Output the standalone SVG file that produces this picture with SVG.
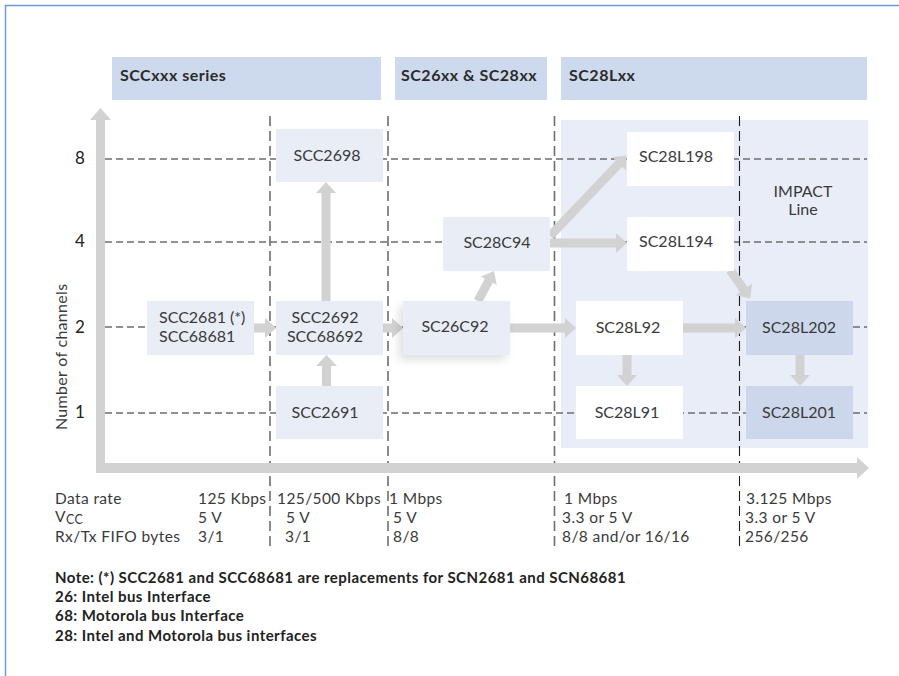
<svg xmlns="http://www.w3.org/2000/svg" width="899" height="676" viewBox="0 0 899 676">
<defs>
<style>
.hdr{fill:#CDD9EC}
.hdrt{font-family:Lato,"Open Sans",sans-serif;font-weight:bold;font-size:16px;letter-spacing:0.5px;fill:#2b2b2b}
.nd{fill:#E8EDF6}
.nw{fill:#FFFFFF}
.nb{fill:#CCD7EB}
.nt{font-family:Lato,"Open Sans",sans-serif;font-size:16px;fill:#3a3a3a;text-anchor:middle}
.ax{fill:#D2D2D2}
.arr{fill:#D2D2D2}
.hg{stroke:#6e6e6e;stroke-width:1.4;stroke-dasharray:7 4;fill:none}
.vg{stroke:#6e6e6e;stroke-width:1.6;stroke-dasharray:10 5;fill:none}
.vk{stroke:#1e1e1e;stroke-width:1.1;stroke-dasharray:10 5;fill:none}
.num{font-family:Lato,"Open Sans",sans-serif;font-size:17px;fill:#222;text-anchor:middle}
.tb{font-family:Lato,"Open Sans",sans-serif;font-size:15.5px;letter-spacing:0.4px;fill:#3a3a3a}
.nt2{font-family:Lato,"Open Sans",sans-serif;font-weight:bold;font-size:15px;letter-spacing:0.45px;fill:#222}
</style>
<filter id="sh" x="-30%" y="-30%" width="160%" height="160%">
<feDropShadow dx="-4" dy="5" stdDeviation="4" flood-color="#000" flood-opacity="0.12"/>
</filter>
</defs>
<rect width="899" height="676" fill="#FFFFFF"/>
<path d="M5.5 676 V5.5 H899" fill="none" stroke="#6A9BD8" stroke-width="1.5"/>

<g id="headers">
<rect class="hdr" x="112" y="57" width="269" height="43"/>
<text class="hdrt" x="120" y="81">SCCxxx series</text>
<rect class="hdr" x="395" y="57" width="152" height="43"/>
<text class="hdrt" x="401" y="81">SC26xx &amp; SC28xx</text>
<rect class="hdr" x="561" y="57" width="306" height="43"/>
<text class="hdrt" x="569" y="81">SC28Lxx</text>
</g>

<g id="impact-region">
<rect x="561" y="120" width="307" height="328" fill="#E8EDF7"/>
<text class="nt" x="803" y="197">IMPACT</text>
<text class="nt" x="803" y="215">Line</text>
</g>

<g id="grid">
<line class="hg" x1="105" y1="159" x2="867" y2="159"/>
<line class="hg" x1="105" y1="242" x2="867" y2="242"/>
<line class="hg" x1="105" y1="327" x2="867" y2="327"/>
<line class="hg" x1="105" y1="413" x2="867" y2="413"/>
<line class="vg" x1="270" y1="116" x2="270" y2="546"/>
<line class="vg" x1="388" y1="116" x2="388" y2="546"/>
<line class="vg" x1="554.5" y1="116" x2="554.5" y2="546"/>
<line class="vk" x1="739.5" y1="116" x2="739.5" y2="546"/>
</g>

<g id="axes">
<polygon class="ax" points="96,473 96,120 90,120 100.5,108 111,120 105,120 105,463 857,463 857,457 869,468 857,479 857,473"/>
<text class="num" x="80" y="164">8</text>
<text class="num" x="80" y="247">4</text>
<text class="num" x="80" y="333">2</text>
<text class="num" x="80" y="418">1</text>
<text font-family="Lato, 'Open Sans', sans-serif" font-size="16" letter-spacing="0.3" fill="#3a3a3a" transform="translate(67,430) rotate(-90)">Number of channels</text>
</g>

<g id="connectors">
<polygon class="arr" points="254,323.5 265,323.5 265,318 276,328 265,338 265,332.5 254,332.5"/>
<polygon class="arr" points="383,323.5 392,323.5 392,318 403,328 392,338 392,332.5 383,332.5"/>
<polygon class="arr" points="322,386 322,366 316,366 326.5,355 337,366 331,366 331,386"/>
<polygon class="arr" points="321.5,301 321.5,193 316,193 326,182 336,193 330.5,193 330.5,301"/>
<polygon class="arr" points="510,323.5 565,323.5 565,318 576,328 565,338 565,332.5 510,332.5"/>
<polygon class="arr" points="550,238.5 616,238.5 616,233 627,243 616,253 616,247.5 550,247.5"/>
<polygon class="arr" points="683,323.5 735,323.5 735,318 746,328 735,338 735,332.5 683,332.5"/>
<polygon class="arr" points="622.5,355 622.5,375 617,375 627,386 637,375 631.5,375 631.5,355"/>
<polygon class="arr" points="795.5,355 795.5,375 790,375 800,386 810,375 804.5,375 804.5,355"/>
<g transform="translate(478,301) rotate(-61.9)">
<polygon class="arr" points="0,-4.5 23,-4.5 23,-9 34,0 23,9 23,4.5 0,4.5"/>
</g>
<g transform="translate(550,236) rotate(-46.4)">
<polygon class="arr" points="0,-4.5 100,-4.5 100,-9.5 111,0 100,9.5 100,4.5 0,4.5"/>
</g>
<g transform="translate(730,270) rotate(54.6)">
<polygon class="arr" points="0,-4.5 24,-4.5 24,-10 35,0 24,10 24,4.5 0,4.5"/>
</g>
</g>

<g id="n-scc2698"><rect class="nd" x="276" y="129" width="107" height="53"/><text class="nt" x="327" y="161">SCC2698</text></g>
<g id="n-scc2681"><rect class="nd" x="147" y="301" width="107" height="54"/><text class="nt" x="159" y="323" style="text-anchor:start">SCC2681 (*)</text><text class="nt" x="159" y="342" style="text-anchor:start">SCC68681</text></g>
<g id="n-scc2692"><rect class="nd" x="276" y="301" width="107" height="54"/><text class="nt" x="325" y="323">SCC2692</text><text class="nt" x="325" y="342">SCC68692</text></g>
<g id="n-scc2691"><rect class="nd" x="276" y="386" width="107" height="53"/><text class="nt" x="325" y="418">SCC2691</text></g>
<g id="n-sc26c92"><rect class="nd" x="403" y="301" width="107" height="54" filter="url(#sh)"/><text class="nt" x="455" y="332">SC26C92</text></g>
<g id="n-sc28c94"><rect class="nd" x="443" y="217" width="107" height="54"/><text class="nt" x="497" y="248">SC28C94</text></g>
<g id="n-sc28l198"><rect class="nw" x="627" y="132" width="107" height="54"/><text class="nt" x="676" y="162">SC28L198</text></g>
<g id="n-sc28l194"><rect class="nw" x="627" y="217" width="107" height="54"/><text class="nt" x="676" y="247">SC28L194</text></g>
<g id="n-sc28l92"><rect class="nw" x="576" y="301" width="107" height="54"/><text class="nt" x="628" y="333">SC28L92</text></g>
<g id="n-sc28l91"><rect class="nw" x="576" y="386" width="107" height="53"/><text class="nt" x="627" y="418">SC28L91</text></g>
<g id="n-sc28l202"><rect class="nb" x="746" y="301" width="107" height="54"/><text class="nt" x="799" y="333">SC28L202</text></g>
<g id="n-sc28l201"><rect class="nb" x="746" y="386" width="107" height="53"/><text class="nt" x="799" y="418">SC28L201</text></g>

<g id="table">
<text class="tb" x="55" y="504">Data rate</text>
<text class="tb" x="55" y="522">V<tspan font-size="12.5" dy="2">CC</tspan></text>
<text class="tb" x="55" y="542">Rx/Tx FIFO bytes</text>
<text class="tb" x="198" y="504">125 Kbps</text>
<text class="tb" x="198" y="523">5 V</text>
<text class="tb" x="198" y="542">3/1</text>
<text class="tb" x="277" y="504">125/500 Kbps</text>
<text class="tb" x="286" y="523">5 V</text>
<text class="tb" x="285" y="542">3/1</text>
<text class="tb" x="389" y="504">1 Mbps</text>
<text class="tb" x="393" y="523">5 V</text>
<text class="tb" x="393" y="542">8/8</text>
<text class="tb" x="564" y="504">1 Mbps</text>
<text class="tb" x="562" y="523">3.3 or 5 V</text>
<text class="tb" x="562" y="542">8/8 and/or 16/16</text>
<text class="tb" x="746" y="504">3.125 Mbps</text>
<text class="tb" x="745" y="523">3.3 or 5 V</text>
<text class="tb" x="745" y="542">256/256</text>
</g>

<g id="notes">
<text class="nt2" x="55" y="583">Note: (*) SCC2681 and SCC68681 are replacements for SCN2681 and SCN68681</text>
<text class="nt2" x="55" y="602">26: Intel bus Interface</text>
<text class="nt2" x="55" y="621">68: Motorola bus Interface</text>
<text class="nt2" x="55" y="641">28: Intel and Motorola bus interfaces</text>
</g>
</svg>
